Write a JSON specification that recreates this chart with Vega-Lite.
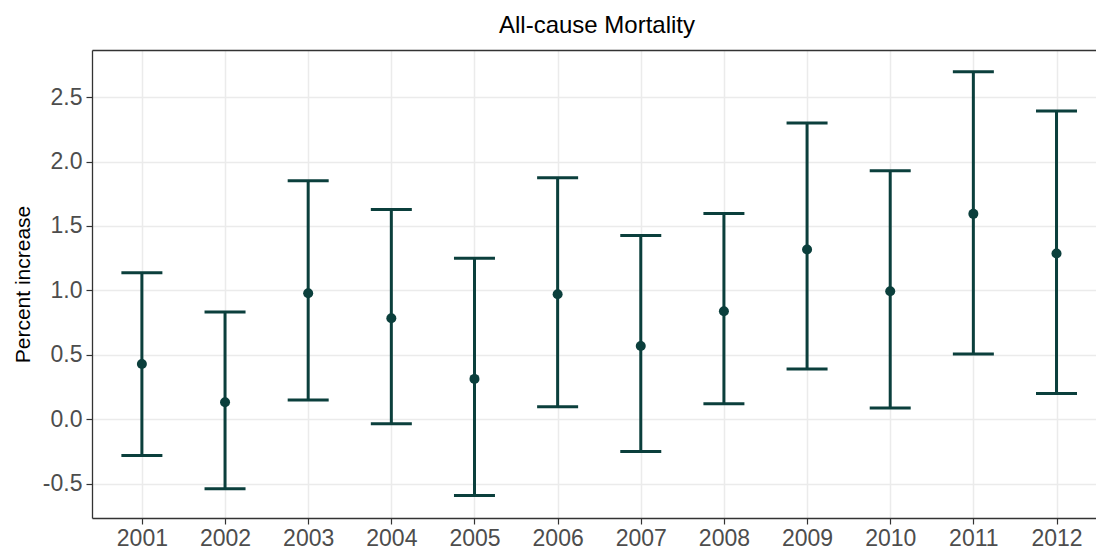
{
  "$schema": "https://vega.github.io/schema/vega-lite/v6.json",
  "width": 1004,
  "height": 468,
  "autosize": {"type": "none"},
  "padding": {"left": 92, "top": 50, "right": 0, "bottom": 32},
  "background": "white",
  "title": {"text": "All-cause Mortality", "fontSize": 24, "font": "Liberation Sans", "fontWeight": "normal", "color": "#000000", "offset": 12, "dx": 3},
  "config": {
    "view": {"stroke": null},
    "axis": {"labelFont": "Liberation Sans", "titleFont": "Liberation Sans", "gridColor": "#ebebeb", "gridWidth": 1.5, "tickColor": "#333333", "domainColor": "#333333", "labelColor": "#4d4d4d", "labelFontSize": 23, "tickSize": 6, "tickWidth": 1.2, "domainWidth": 1.3}
  },
  "data": {"values": [
    {"year": 2001, "est": 0.43, "lower": -0.281, "upper": 1.137},
    {"year": 2002, "est": 0.133, "lower": -0.538, "upper": 0.832},
    {"year": 2003, "est": 0.978, "lower": 0.151, "upper": 1.851},
    {"year": 2004, "est": 0.785, "lower": -0.034, "upper": 1.628},
    {"year": 2005, "est": 0.314, "lower": -0.59, "upper": 1.249},
    {"year": 2006, "est": 0.971, "lower": 0.097, "upper": 1.875},
    {"year": 2007, "est": 0.569, "lower": -0.25, "upper": 1.427},
    {"year": 2008, "est": 0.839, "lower": 0.121, "upper": 1.597},
    {"year": 2009, "est": 1.318, "lower": 0.391, "upper": 2.299},
    {"year": 2010, "est": 0.994, "lower": 0.089, "upper": 1.929},
    {"year": 2011, "est": 1.594, "lower": 0.507, "upper": 2.697},
    {"year": 2012, "est": 1.286, "lower": 0.2, "upper": 2.392}
  ]},
  "layer": [
    {
      "mark": {"type": "rule", "color": "#0b3f3c", "strokeWidth": 3},
      "encoding": {
        "x": {"field": "year", "type": "quantitative", "scale": {"domain": [2000.4, 2012.475], "nice": false, "zero": false},
              "axis": {"orient": "bottom", "values": [2001,2002,2003,2004,2005,2006,2007,2008,2009,2010,2011,2012], "format": "d", "title": null, "labelPadding": 3, "labelFlush": false, "labelOverlap": false}},
        "y": {"field": "lower", "type": "quantitative", "scale": {"domain": [-0.765, 2.865], "nice": false, "zero": false},
              "axis": {"values": [-0.5, 0, 0.5, 1, 1.5, 2, 2.5], "labelExpr": "replace(format(datum.value, '.1f'), '\u2212', '-')", "title": "Percent increase", "titleFontSize": 21, "titleFontWeight": "normal", "titleColor": "#000000", "labelPadding": 4, "titlePadding": 9, "domain": true}},
        "y2": {"field": "upper"}
      }
    },
    {
      "mark": {"type": "tick", "orient": "horizontal", "color": "#0b3f3c", "size": 41, "thickness": 3, "opacity": 1},
      "encoding": {
        "x": {"field": "year", "type": "quantitative", "axis": null},
        "y": {"field": "lower", "type": "quantitative", "axis": null}
      }
    },
    {
      "mark": {"type": "tick", "orient": "horizontal", "color": "#0b3f3c", "size": 41, "thickness": 3, "opacity": 1},
      "encoding": {
        "x": {"field": "year", "type": "quantitative", "axis": null},
        "y": {"field": "upper", "type": "quantitative", "axis": null}
      }
    },
    {
      "mark": {"type": "point", "filled": true, "color": "#0b3f3c", "size": 100, "opacity": 1},
      "encoding": {
        "x": {"field": "year", "type": "quantitative", "axis": {"orient": "top", "labels": false, "ticks": false, "grid": false, "domain": true, "title": null}},
        "y": {"field": "est", "type": "quantitative", "axis": null}
      }
    }
  ],
  "resolve": {"axis": {"x": "independent", "y": "independent"}}
}
